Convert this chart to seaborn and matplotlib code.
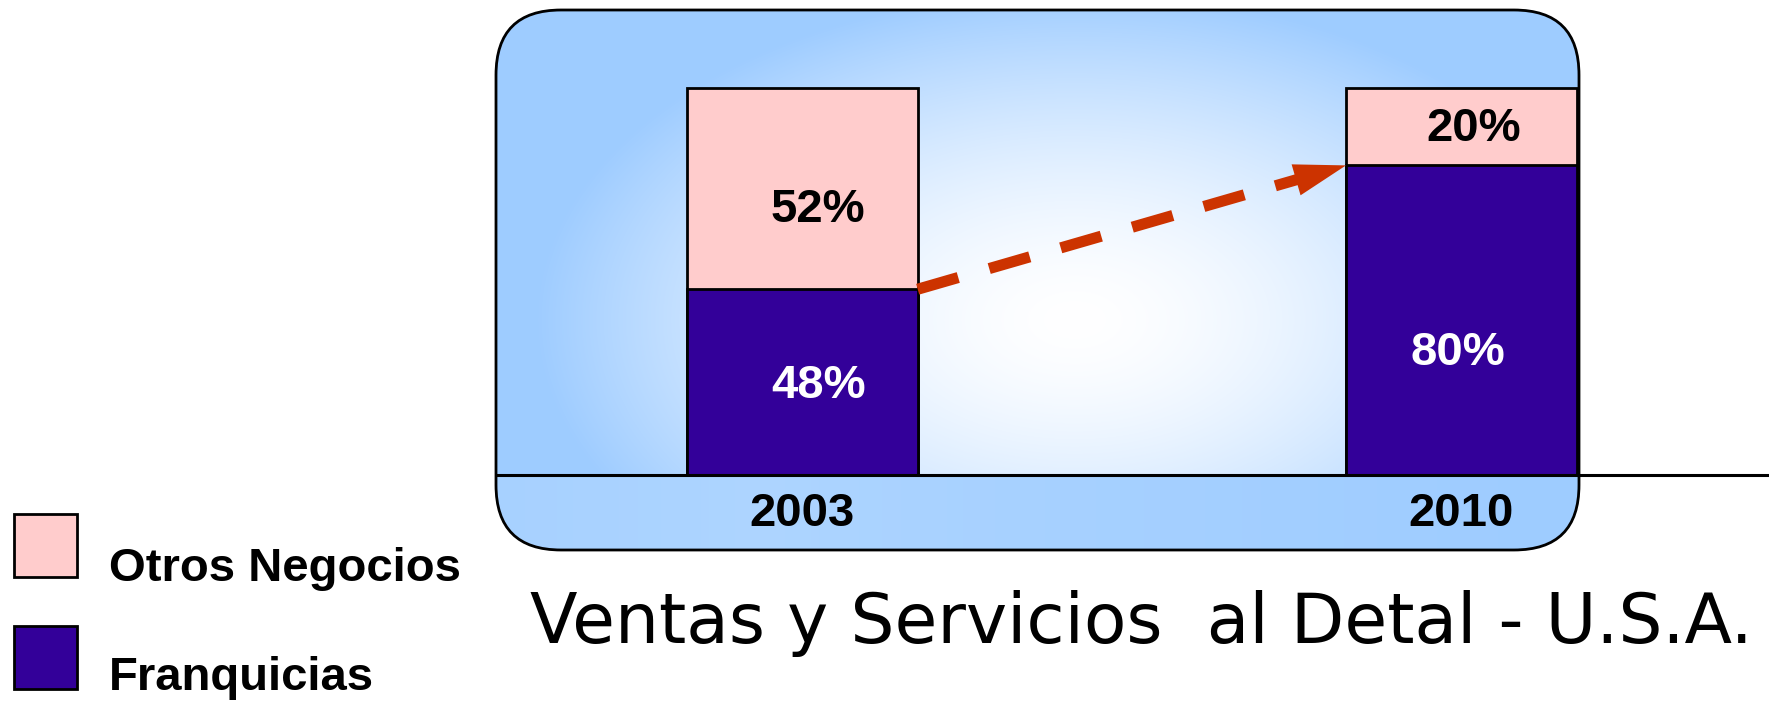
import numpy as np
import matplotlib
matplotlib.use("Agg")
import matplotlib.pyplot as plt
from matplotlib.patches import FancyBboxPatch, Rectangle
import seaborn as sns

# ---------------- data ----------------
years = ["2003", "2010"]
franquicias = [48, 80]
otros = [52, 20]
legend_labels = ["Otros Negocios", "Franquicias"]
title = "Ventas y Servicios  al Detal - U.S.A."

# ---------------- style ----------------
PINK = "#FFCCCC"
PURPLE = "#330099"
ARROW = "#CC3300"
EDGE_BLUE = np.array([158, 204, 255]) / 255.0
BOLD = dict(family=["Liberation Sans", "DejaVu Sans"], fontweight="bold", fontsize=34)

W, H = 1769, 702
fig = plt.figure(figsize=(W / 100, H / 100), dpi=100)

# background / decoration axes in pixel coordinates
bg = fig.add_axes([0, 0, 1, 1], zorder=0)
bg.set_xlim(0, W)
bg.set_ylim(H, 0)
bg.axis("off")

px0, px1, py0, py1, pbase = 496, 1579, 10, 550, 475
panel = FancyBboxPatch((px0, py0), px1 - px0, py1 - py0,
                       boxstyle="round,pad=0,rounding_size=65",
                       facecolor="none", edgecolor="none")
bg.add_patch(panel)

# upper radial gradient
yy, xx = np.mgrid[py0:pbase, px0:px1] + 0.5
cx, cy, rx, ry = 1075, 320, 540, 330
t = np.clip(np.sqrt(((xx - cx) / rx) ** 2 + ((yy - cy) / ry) ** 2), 0, 1) ** 1.6
img = (1 - t)[..., None] * 1.0 + t[..., None] * EDGE_BLUE
im = bg.imshow(img, extent=(px0, px1, pbase, py0), origin="upper",
               aspect="auto", interpolation="bilinear", zorder=1)
im.set_clip_path(panel)

# lower band gradient
yy2, xx2 = np.mgrid[pbase:py1, px0:px1] + 0.5
t2 = np.clip(np.abs(xx2 - 760) / 800, 0, 1) ** 0.8
light = np.array([174, 213, 255]) / 255.0
img2 = (1 - t2)[..., None] * light + t2[..., None] * EDGE_BLUE
im2 = bg.imshow(img2, extent=(px0, px1, py1, pbase), origin="upper",
                aspect="auto", interpolation="bilinear", zorder=1)
im2.set_clip_path(panel)

border = FancyBboxPatch((px0, py0), px1 - px0, py1 - py0,
                        boxstyle="round,pad=0,rounding_size=65",
                        facecolor="none", edgecolor="black", linewidth=2, zorder=2)
bg.add_patch(border)
bg.set_xlim(0, W)
bg.set_ylim(H, 0)

# legend (manual)
for yt, col, lab, base in [(514, PINK, legend_labels[0], 581),
                           (626, PURPLE, legend_labels[1], 690)]:
    bg.add_patch(Rectangle((14, yt), 63, 63, facecolor=col, edgecolor="black",
                           linewidth=2, zorder=3))
    bg.text(109, base, lab, ha="left", va="baseline", color="black", **BOLD)

bg.text(530, 643, title, ha="left", va="baseline", fontsize=50,
        family=["DejaVu Sans"], color="black")

# ---------------- main chart axes ----------------
ax = fig.add_axes([px0 / W, (H - py1) / H, (W - px0) / W, (py1 - py0) / H], zorder=1)
ax.patch.set_alpha(0)

totals = [f + o for f, o in zip(franquicias, otros)]
BAR_W = 0.35
sns.barplot(x=years, y=totals, color=PINK, saturation=1, width=BAR_W,
            edgecolor="black", linewidth=2, ax=ax)
sns.barplot(x=years, y=franquicias, color=PURPLE, saturation=1, width=BAR_W,
            edgecolor="black", linewidth=2, ax=ax)

ppu = (pbase - 88) / 100.0          # pixels per unit
ax.set_xlim(-0.465, 1.467)
ax.set_ylim(-(py1 - pbase) / ppu, (pbase - py0) / ppu)
ax.axis("off")
ax.axhline(0, color="black", lw=2.2, zorder=5)

# segment labels
lab_dx = [[0.024, 0.019], [0.024, -0.005]]   # [otros, franq] per year
lab_dy = [[-5.5, -0.6], [-1.0, -8.5]]
for i in range(len(years)):
    ax.text(i + lab_dx[0][i], franquicias[i] + otros[i] / 2 + lab_dy[0][i],
            f"{otros[i]}%", ha="center", va="center", color="black", **BOLD)
    ax.text(i + lab_dx[1][i], franquicias[i] / 2 + lab_dy[1][i],
            f"{franquicias[i]}%", ha="center", va="center", color="white", **BOLD)
    ax.text(i, -(514 - pbase) / ppu, years[i], ha="center", va="center",
            color="black", **BOLD)

# dashed arrow from 2003 franchise top to 2010 franchise top
x0, y0 = 0 + BAR_W / 2, franquicias[0]
x1, y1 = 1 - BAR_W / 2, franquicias[1]
f = 0.92
ax.plot([x0, x0 + f * (x1 - x0)], [y0, y0 + f * (y1 - y0)], color=ARROW, lw=8,
        dashes=(3.8, 2.9), solid_capstyle="butt", dash_capstyle="butt", zorder=6)
ax.annotate("", xy=(x1, y1), xytext=(x0, y0),
            arrowprops=dict(arrowstyle="-|>,head_length=1.87,head_width=0.58",
                            mutation_scale=20, lw=0, color=ARROW,
                            shrinkA=0, shrinkB=0), zorder=7)

fig.savefig("out.png", dpi=100)
